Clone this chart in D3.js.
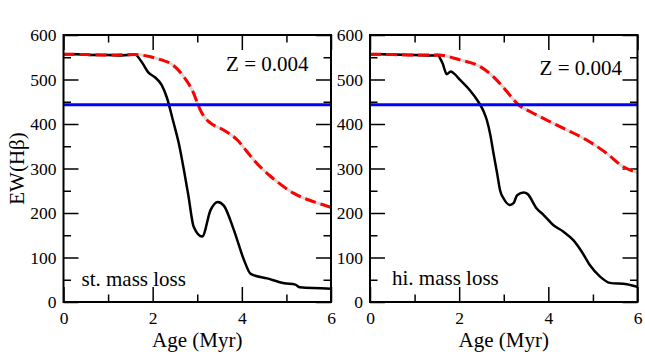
<!DOCTYPE html>
<html>
<head>
<meta charset="utf-8">
<script src="https://cdn.jsdelivr.net/npm/d3@7"></script>
<style>
  body { margin: 0; background: #fff; }
  svg { display: block; }
</style>
</head>
<body>
<div id="chart"></div>
<script>
// ---- data ----
const xTickMajor = [0, 2, 4, 6];
const xTickMinor = [1, 3, 5];
const yTickMajor = [0, 100, 200, 300, 400, 500, 600];
const yTickMinor = [50, 150, 250, 350, 450, 550];
const blueLevel = 443;
const metalLabel = "Z = 0.004";
const panelNames = ["st. mass loss", "hi. mass loss"];

// standard mass loss
const stdBlackAge = [0, 0.3, 0.6, 1.0, 1.3, 1.6, 1.75, 1.9, 2.05, 2.2, 2.32, 2.45, 2.6, 2.7, 2.8, 2.92, 3.11, 3.3, 3.46, 3.6, 3.82, 4.05, 4.2, 4.57, 4.95, 5.2, 5.3, 6.0];
const stdBlackEW  = [557, 557, 555, 555, 554, 556, 540, 516, 505, 488, 459, 410, 350, 297, 240, 169, 147, 207, 225, 216, 162, 94, 63, 53, 42, 39, 33, 30];
const stdRedAge = [0, 0.5, 1.0, 1.6, 1.95, 2.2, 2.4, 2.55, 2.7, 2.82, 2.92, 3.0, 3.07, 3.18, 3.3, 3.6, 3.9, 4.1, 4.27, 4.45, 4.65, 4.9, 5.17, 5.4, 5.62, 6.0];
const stdRedEW  = [557, 556, 555, 556, 551, 544, 536, 524, 506, 488, 469, 448, 431, 413, 402, 386, 364, 340, 319, 300, 282, 262, 244, 233, 225, 213];

// high mass loss
const hiBlackAge = [0, 0.5, 1.0, 1.4, 1.53, 1.58, 1.63, 1.72, 1.81, 1.9, 2.02, 2.24, 2.43, 2.55, 2.62, 2.7, 2.77, 2.85, 2.92, 3.0, 3.14, 3.22, 3.3, 3.45, 3.53, 3.74, 3.89, 4.11, 4.34, 4.56, 4.75, 4.93, 5.16, 5.38, 5.76, 6.0];
const hiBlackEW  = [557, 556, 555, 554, 555, 546, 536, 512, 518, 512, 499, 476, 450, 428, 409, 375, 334, 290, 250, 232, 218, 222, 240, 246, 243, 210, 196, 173, 158, 139, 113, 83, 57, 43, 40, 34];
const hiRedAge = [0, 0.5, 1.0, 1.53, 2.02, 2.47, 2.77, 2.95, 3.07, 3.2, 3.33, 3.59, 3.96, 4.41, 4.86, 5.31, 5.68, 6.0];
const hiRedEW  = [557, 556, 555, 555, 544, 529, 506, 487, 473, 457, 443, 428, 409, 387, 364, 334, 304, 291];

// ---- layout ----
const width = 645, height = 354;
const panelW = 267.5, panelH = 267;
const panelTop = 35;
const serif = "'Liberation Serif'";

const panels = [
  { left: 63.5, name: panelNames[0], black: [stdBlackAge, stdBlackEW], red: [stdRedAge, stdRedEW], zx: 245, zy: 36, nx: 18, ny: 251 },
  { left: 370, name: panelNames[1], black: [hiBlackAge, hiBlackEW], red: [hiRedAge, hiRedEW], zx: 252, zy: 40, nx: 22, ny: 250 }
];

const svg = d3.select("#chart")
  .append("svg")
  .attr("width", width)
  .attr("height", height);

const x = d3.scaleLinear().domain([0, 6]).range([0, panelW]);
const y = d3.scaleLinear().domain([0, 600]).range([panelH, 0]);

const line = d3.line()
  .x(d => x(d[0]))
  .y(d => y(d[1]))
  .curve(d3.curveMonotoneX);

const zip = (a, b) => a.map((v, i) => [v, b[i]]);

const styleAxis = (g, hideText) => {
  g.select(".domain").remove();
  g.selectAll(".tick line").attr("stroke", "#000").attr("stroke-width", 1.5);
  g.selectAll(".tick text").attr("fill", "#000").attr("font-size", 17.5);
  if (hideText) g.selectAll(".tick text").remove();
};

panels.forEach(p => {
  const g = svg.append("g").attr("transform", `translate(${p.left}, ${panelTop})`);

  // ticks, all pointing inward
  g.append("g").attr("transform", `translate(0, ${panelH})`)
    .call(d3.axisBottom(x).tickValues(xTickMajor).tickSize(-15).tickPadding(10).tickFormat(d3.format("d")))
    .call(a => styleAxis(a, false));
  g.append("g").attr("transform", `translate(0, ${panelH})`)
    .call(d3.axisBottom(x).tickValues(xTickMinor).tickSize(-7.5))
    .call(a => styleAxis(a, true));
  g.append("g")
    .call(d3.axisTop(x).tickValues(xTickMajor).tickSize(-15))
    .call(a => styleAxis(a, true));
  g.append("g")
    .call(d3.axisTop(x).tickValues(xTickMinor).tickSize(-7.5))
    .call(a => styleAxis(a, true));

  g.append("g")
    .call(d3.axisLeft(y).tickValues(yTickMajor).tickSize(-15).tickPadding(7).tickFormat(d3.format("d")))
    .call(a => styleAxis(a, false));
  g.append("g")
    .call(d3.axisLeft(y).tickValues(yTickMinor).tickSize(-7.5))
    .call(a => styleAxis(a, true));
  g.append("g").attr("transform", `translate(${panelW}, 0)`)
    .call(d3.axisRight(y).tickValues(yTickMajor).tickSize(-15))
    .call(a => styleAxis(a, true));
  g.append("g").attr("transform", `translate(${panelW}, 0)`)
    .call(d3.axisRight(y).tickValues(yTickMinor).tickSize(-7.5))
    .call(a => styleAxis(a, true));

  // curves: grey underlay, black solid, red dashed on top
  const clip = `clip-${p.left}`;
  g.append("clipPath").attr("id", clip)
    .append("rect").attr("width", panelW).attr("height", panelH);

  const curves = g.append("g").attr("clip-path", `url(#${clip})`);

  curves.append("path")
    .datum(zip(p.red[0], p.red[1]))
    .attr("d", line)
    .attr("fill", "none")
    .attr("stroke", "#d8d8d8")
    .attr("stroke-width", 3);

  curves.append("path")
    .datum(zip(p.black[0], p.black[1]))
    .attr("d", line)
    .attr("fill", "none")
    .attr("stroke", "#000")
    .attr("stroke-width", 2.5);

  curves.append("path")
    .datum(zip(p.red[0], p.red[1]))
    .attr("d", line)
    .attr("fill", "none")
    .attr("stroke", "#ff0000")
    .attr("stroke-width", 3)
    .attr("stroke-dasharray", "11 5");

  curves.append("line")
    .attr("x1", 0)
    .attr("x2", panelW)
    .attr("y1", y(blueLevel))
    .attr("y2", y(blueLevel))
    .attr("stroke", "#0000ff")
    .attr("stroke-width", 3);

  // frame
  g.append("rect")
    .attr("width", panelW)
    .attr("height", panelH)
    .attr("fill", "none")
    .attr("stroke", "#000")
    .attr("stroke-width", 2);

  g.append("text")
    .text(metalLabel)
    .attr("x", p.zx)
    .attr("y", p.zy)
    .attr("text-anchor", "end")
    .attr("font-size", 21);

  g.append("text")
    .text(p.name)
    .attr("x", p.nx)
    .attr("y", p.ny)
    .attr("font-size", 21);

  g.append("text")
    .text("Age (Myr)")
    .attr("x", panelW / 2)
    .attr("y", 312)
    .attr("text-anchor", "middle")
    .attr("font-size", 21);
});

svg.append("text")
  .text("EW(Hβ)")
  .attr("transform", `translate(24, ${panelTop + panelH / 2}) rotate(-90)`)
  .attr("text-anchor", "middle")
  .attr("font-size", 21);

// set the serif face on every text node directly
svg.selectAll("text").attr("font-family", serif);
</script>
</body>
</html>
